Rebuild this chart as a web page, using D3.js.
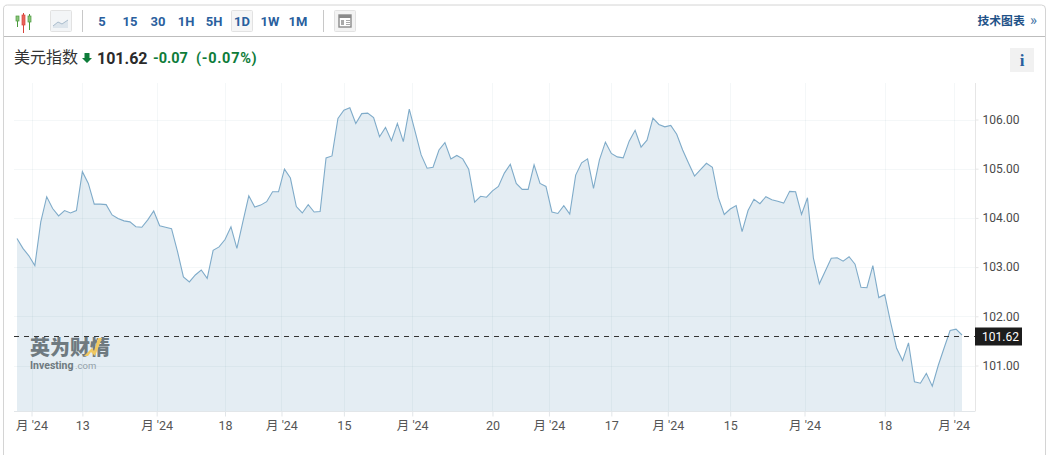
<!DOCTYPE html>
<html><head><meta charset="utf-8">
<script src="https://cdn.jsdelivr.net/npm/d3@7/dist/d3.min.js"></script>
<style>html,body{margin:0;padding:0;background:#fff;overflow:hidden}svg{display:block}
text{font-family:Roboto,"Noto Sans CJK SC",sans-serif}</style></head><body><svg id="c" width="1051" height="455"></svg>
<script>
const values=[103.58,103.38,103.23,103.03,103.92,104.43,104.19,104.04,104.15,104.10,104.15,104.94,104.70,104.28,104.28,104.27,104.06,103.99,103.94,103.92,
103.82,103.81,103.96,104.14,103.84,103.81,103.78,103.32,102.80,102.70,102.84,102.94,102.77,103.34,103.41,103.56,103.82,103.38,103.92,104.45,
104.22,104.26,104.33,104.53,104.53,104.99,104.81,104.23,104.10,104.27,104.12,104.13,105.22,105.26,106.02,106.19,106.24,105.92,106.12,106.13,
106.04,105.65,105.84,105.57,105.92,105.55,106.21,105.75,105.28,105.01,105.03,105.38,105.53,105.20,105.27,105.20,104.99,104.32,104.44,104.42,
104.55,104.64,104.91,105.09,104.70,104.58,104.58,105.08,104.70,104.64,104.12,104.09,104.25,104.08,104.87,105.12,105.20,104.60,105.18,105.54,
105.31,105.24,105.22,105.56,105.78,105.44,105.58,106.03,105.90,105.85,105.88,105.70,105.38,105.11,104.85,104.98,105.11,105.03,104.41,104.07,
104.18,104.25,103.72,104.15,104.38,104.29,104.43,104.37,104.34,104.30,104.54,104.53,104.07,104.41,103.18,102.66,102.92,103.18,103.19,103.12,
103.21,103.06,102.59,102.58,103.03,102.38,102.44,101.87,101.35,101.10,101.46,100.67,100.64,100.84,100.58,101.00,101.36,101.71,101.74,101.62];
const yTicks=[101,102,103,104,105,106];
const xTickIdx=[2.44,11,23.5,35,44.5,55,66.5,80,89.5,100,109.5,120,132.5,146,157.6];
const xTickLabels=["月 '24","13","月 '24","18","月 '24","15","月 '24","20","月 '24","17","月 '24","15","月 '24","18","月 '24"];
const toolbarLabels=["5","15","30","1H","5H","1D","1W","1M"];
const lastValue=101.62;

const svg=d3.select("#c");
const x=d3.scaleLinear().domain([0,values.length-1]).range([17,962]);
const y=d3.scaleLinear().domain([101,106]).range([365.5,119.5]);
const plotL=14,plotR=975,plotT=83,plotB=411.5;

// frame
svg.append("path").attr("d","M3.5,455V9a4,4 0 0 1 4,-4H1041.5a4,4 0 0 1 4,4V455").attr("fill","none").attr("stroke","#d4d4d4");
svg.append("line").attr("x1",4).attr("x2",1045).attr("y1",36.5).attr("y2",36.5).attr("stroke","#bdbdbd");

// toolbar
const tb=svg.append("g");
[[18,17,24,16,21,"#4a9a3c"],[24,13,30,15,25,"#d9423a"],[30,14,27,16,22,"#4a9a3c"]].forEach(([cx,t,b,bt,bb,col])=>{
  tb.append("line").attr("x1",cx-.5).attr("x2",cx-.5).attr("y1",t).attr("y2",b+3).attr("stroke",col);
  tb.append("rect").attr("x",cx-2).attr("y",bt).attr("width",3).attr("height",bb-bt).attr("fill",col==="#d9423a"?"#e8655c":"#8cc47d").attr("stroke",col).attr("stroke-width",.7);
});
const box=(bx,by,w,h,f)=>tb.append("rect").attr("x",bx+.5).attr("y",by+.5).attr("width",w).attr("height",h).attr("rx",1).attr("fill",f).attr("stroke","#e2e2e2");
box(50,10,21,21,"#f3f5f7");
tb.append("path").attr("d","M53,26L58,22L62,24L68,20V28H53Z").attr("fill","#dde5ec");
tb.append("path").attr("d","M53,26L58,22L62,24L68,20").attr("fill","none").attr("stroke","#a9bccd");
[82.5,323.5].forEach(sx=>tb.append("line").attr("x1",sx).attr("x2",sx).attr("y1",10).attr("y2",32).attr("stroke","#c8c8c8"));
box(231,10,21,21,"#f6f6f6");
const tbX=[102,130,158,186,214,242,270,298];
toolbarLabels.forEach((t,i)=>tb.append("text").attr("x",tbX[i]).attr("y",26).attr("text-anchor","middle")
  .attr("font-size",13).attr("font-weight",700).attr("fill","#2a5f9e").text(t));
box(334,10,21,21,"#f3f3f3");
tb.append("rect").attr("x",339).attr("y",15).attr("width",12).attr("height",12).attr("fill","#fff").attr("stroke","#8a8a8a").attr("stroke-width",1.4);
tb.append("rect").attr("x",339).attr("y",15).attr("width",12).attr("height",3).attr("fill","#8a8a8a");
tb.append("rect").attr("x",341).attr("y",20).attr("width",3).attr("height",5).attr("fill","#aaa");
tb.append("path").attr("d","M346,20.5H350M346,22.5H350M346,24.5H350").attr("stroke","#aaa");
tb.append("text").attr("x",977.5).attr("y",25).attr("font-size",11.8).attr("font-weight",700).attr("fill","#1f5288").text("技术图表");
tb.append("text").attr("x",1030).attr("y",25).attr("font-size",15).attr("fill","#4a78a8").text("»");

// heading
const hd=svg.append("g");
hd.append("text").attr("x",14).attr("y",63).attr("font-size",16).attr("fill","#333").text("美元指数");
hd.append("path").attr("d","M84.5,53H89.5V58H92L87,63L82,58H84.5Z").attr("fill","#0e7c3a");
hd.append("text").attr("x",97).attr("y",64).attr("font-size",16).attr("font-weight",700).attr("fill","#2a2a2a").text("101.62");
hd.append("text").attr("x",153).attr("y",63).attr("font-size",14.5).attr("font-weight",700).attr("fill","#0e7c3a").text("-0.07");
hd.append("text").attr("x",196).attr("y",63).attr("font-size",14.5).attr("font-weight",700).attr("letter-spacing",.7).attr("fill","#0e7c3a").text("(-0.07%)");
hd.append("rect").attr("x",1010).attr("y",48).attr("width",24).attr("height",24).attr("fill","#f1f1f1");
hd.append("text").attr("x",1022).attr("y",66).attr("text-anchor","middle").attr("font-size",17).attr("font-weight",700)
  .style("font-family","'Liberation Serif',serif").attr("fill","#2a5f9e").text("i");

// area + line
const area=d3.area().x((d,i)=>x(i)).y0(plotB).y1(d=>y(d));
const line=d3.line().x((d,i)=>x(i)).y(d=>y(d));
svg.append("path").datum(values).attr("d",area).attr("fill","#e4edf3");

// grid
const grid=svg.append("g");
grid.selectAll("line.h").data(yTicks).join("line").attr("x1",plotL).attr("x2",plotR)
  .attr("y1",d=>Math.round(y(d))+.5).attr("y2",d=>Math.round(y(d))+.5).attr("stroke","#6a8aa0").attr("stroke-opacity",.07);
grid.selectAll("line.v").data(xTickIdx).join("line").attr("x1",d=>Math.round(x(d))+.5).attr("x2",d=>Math.round(x(d))+.5)
  .attr("y1",plotT).attr("y2",plotB).attr("stroke","#6a8aa0").attr("stroke-opacity",.07);

svg.append("path").datum(values).attr("d",line).attr("fill","none").attr("stroke","#7fabc9").attr("stroke-width",1.1);

// axes
const yAxis=svg.append("g").attr("transform",`translate(${plotR+.5},0)`)
  .call(d3.axisRight(y).tickValues(yTicks).tickSize(3).tickPadding(4).tickFormat(d3.format(".2f")));
yAxis.select(".domain").attr("d",`M0,${plotT}V${plotB}`).attr("stroke","#e6e6e6");
yAxis.selectAll(".tick line").attr("stroke","#e6e6e6");
yAxis.selectAll("text").attr("font-size",12).attr("fill","#4a4a4a").style("font-family","Roboto,sans-serif");

const xAxis=svg.append("g").attr("transform",`translate(0,${plotB})`)
  .call(d3.axisBottom(x).tickValues(xTickIdx).tickSize(5).tickPadding(5).tickFormat((d,i)=>xTickLabels[i]));
xAxis.select(".domain").attr("d",`M${plotL},0H${plotR}`).attr("stroke","#e2e6e9");
xAxis.selectAll(".tick line").attr("stroke","#e2e6e9");
xAxis.selectAll("text").attr("font-size",12.5).attr("fill","#555").style("font-family","Roboto,'Noto Sans CJK SC',sans-serif");

// current value
const ly=Math.round(y(lastValue))+1.5;
svg.append("line").attr("x1",plotL).attr("x2",plotR).attr("y1",ly).attr("y2",ly).attr("stroke","#333").attr("stroke-dasharray","5,5");
svg.append("rect").attr("x",975).attr("y",ly-9).attr("width",47).attr("height",18).attr("fill","#1c1c1c");
svg.append("text").attr("x",982).attr("y",ly+4.5).attr("font-size",12).attr("fill","#fff").text(d3.format(".2f")(lastValue));

// watermark
const wm=svg.append("g");
wm.append("text").attr("x",30).attr("y",355).attr("font-size",20).attr("font-weight",900).attr("fill","#6f7a80").text("英为财情");
wm.append("path").attr("d","M84,356L92,348L94,351L98,338L102,338L95,356L91,352L88,356Z").attr("fill","#f0c860");
wm.append("text").attr("x",30).attr("y",369).attr("font-size",10.5).attr("font-weight",700).attr("fill","#6f7a80").text("Investing");
wm.append("text").attr("x",75).attr("y",369).attr("font-size",9.5).attr("fill","#93a0a8").text(".com");
</script></body></html>
